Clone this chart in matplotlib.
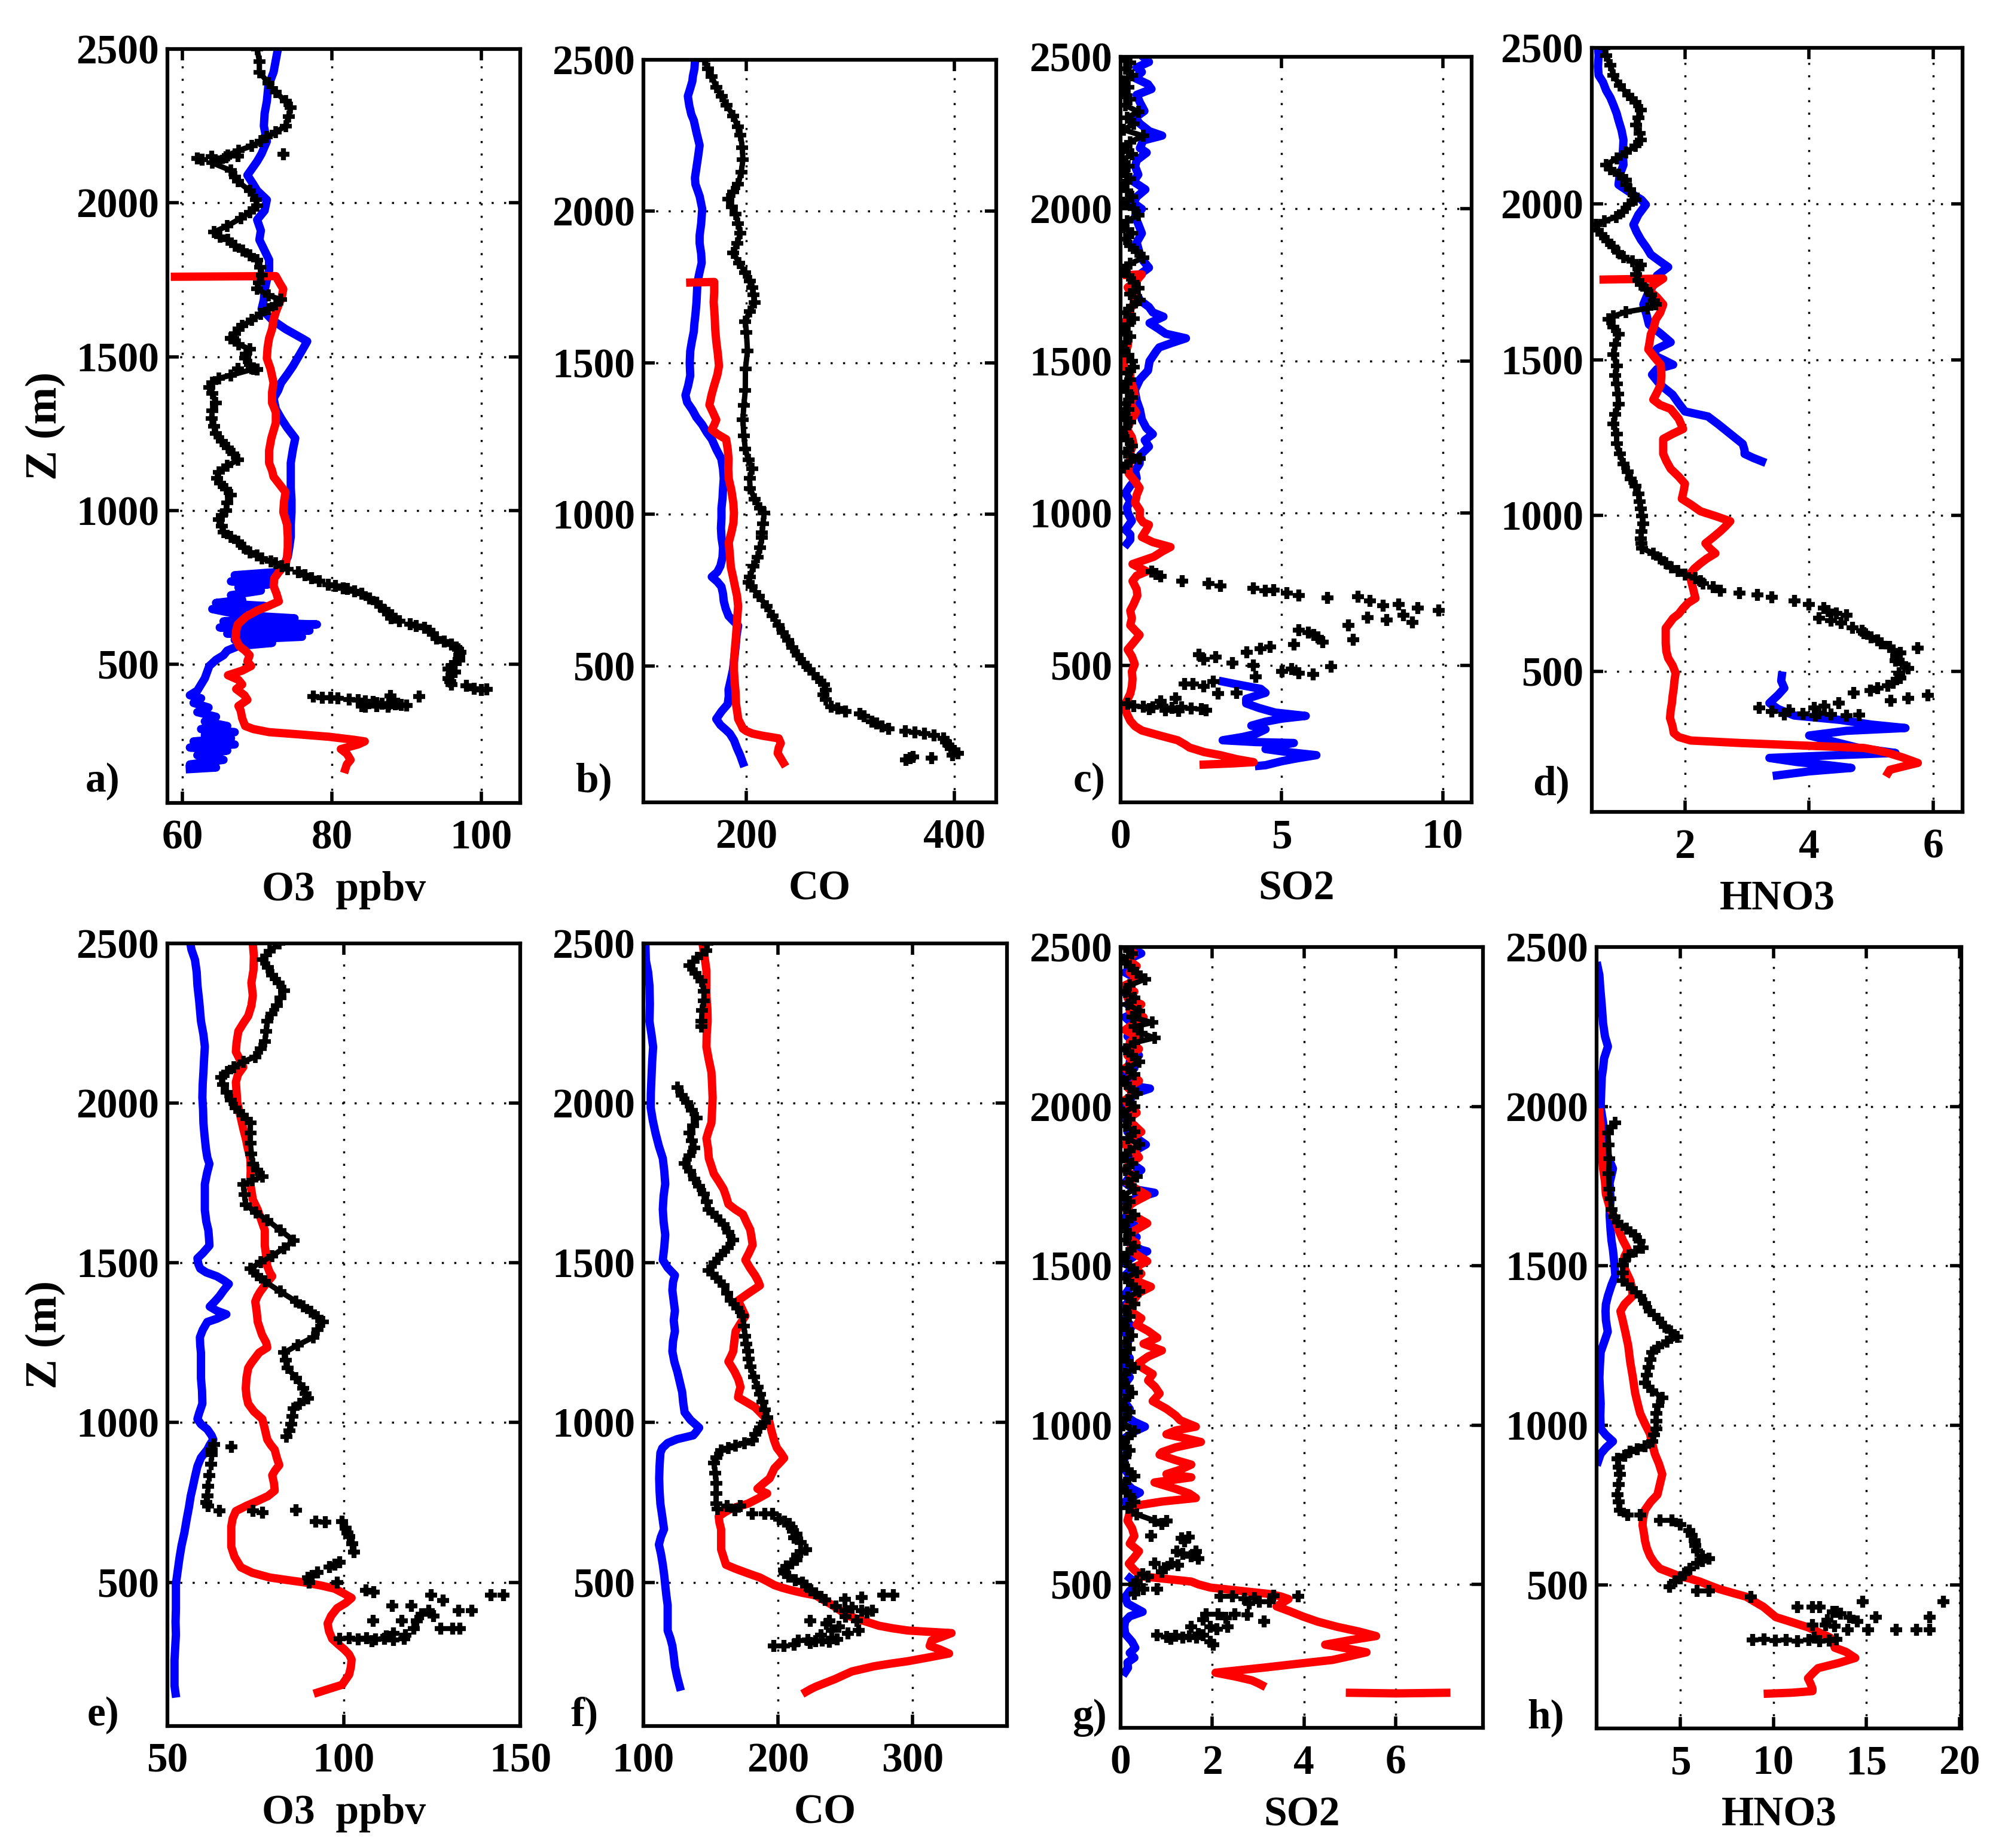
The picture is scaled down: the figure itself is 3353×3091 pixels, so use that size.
import numpy as np
import matplotlib
matplotlib.use("Agg")
import matplotlib.pyplot as plt

nan = np.nan

# ---------------- data: (height Z in m, value) ----------------
# panel a) O3
a_blue = [(2490,72.7),(2425,72.2),(2380,71.5),(2330,71.3),(2290,71.0),(2250,70.9),(2200,71.3),(2160,70.6),
          (2135,70.0),(2090,68.7),(2060,69.5),(2040,70.0),(2010,71.3),(1975,71.0),(1945,70.0),(1910,70.5),
          (1880,70.3),(1845,71.0),(1815,71.6),(1780,71.6),(1750,71.3),(1715,71.0),(1685,70.9),(1655,70.6),
          (1620,72.0),(1590,73.8),(1560,76.0),(1550,76.7),(1520,76.0),(1495,75.4),(1470,74.8),(1445,74.1),
          (1415,73.2),(1390,72.8),(1365,72.2),(1330,72.5),(1300,73.2),(1270,74.0),(1235,75.1),(1200,74.8),
          (1155,74.5),(1115,74.5),(1075,74.5),(1035,74.6),(995,74.6),(955,74.5),(915,74.5),(880,74.3),
          (850,74.1),(820,73.5),(800,72.5),(790,67.0),(780,72.0),(770,66.5),(760,71.5),(750,67.5),
          (740,70.5),(725,66.5),(710,68.0),(700,64.5),(690,71.0),(680,64.0),(670,66.0),(660,68.0),
          (650,75.0),(640,65.5),(630,78.0),(620,65.0),(610,77.0),(600,66.0),(590,76.0),(580,67.0),
          (570,72.0),(560,67.5),(545,66.0),(530,65.5),(515,64.5),(495,63.6),(475,63.3),(455,63.0),
          (435,62.5),(415,62.0),(400,61.0),(390,62.5),(375,61.5),(360,63.5),(345,62.0),(330,64.5),
          (315,63.0),(300,66.0),(290,62.5),(280,67.0),(270,63.0),(260,66.5),(250,61.5),(240,67.0),
          (230,61.0),(220,66.0),(205,62.0),(190,65.5),(175,61.0),(165,64.5),(160,61.0)]
a_red = [(1760,59.0),(1762,72.5),(1740,73.0),(1720,73.5),(1695,73.3),(1670,72.9),(1645,72.5),(1620,72.2),
         (1590,72.0),(1560,71.6),(1530,71.4),(1495,71.3),(1460,71.8),(1415,72.2),(1385,72.0),(1350,72.0),
         (1320,72.5),(1285,72.5),(1260,72.2),(1235,71.9),(1195,71.6),(1155,71.6),(1130,72.0),(1110,72.2),
         (1085,73.0),(1060,73.8),(1030,73.6),(995,73.5),(955,74.0),(915,74.1),(880,74.1),(850,74.0),
         (825,73.8),(800,72.9),(780,72.3),(755,72.2),(730,72.6),(705,72.9),(690,71.5),(675,70.0),
         (655,68.5),(630,67.4),(610,67.2),(585,67.1),(560,67.6),(545,68.4),(530,69.0),(510,68.7),
         (495,69.2),(480,68.0),(465,66.1),(450,67.5),(435,68.0),(420,67.2),(400,68.3),(385,68.7),
         (365,67.5),(350,67.8),(325,68.0),(300,68.4),(290,69.5),(280,71.6),(272,76.0),(265,79.6),
         (255,83.0),(250,84.4),(240,83.5),(225,81.2),(210,82.0),(190,82.5),(175,82.0),(160,81.8)]
a_black = [(2500,70.0),(2460,70.3),(2425,70.3),(2390,71.5),(2360,72.5),(2330,73.8),(2310,74.5),(2280,74.2),
           (2250,73.8),(2230,72.5),(2215,71.3),(2200,70.5),(2185,69.3),(2170,67.5),(2155,66.1),(2130,64.0),
           (2105,66.5),(2085,67.0),(2070,67.4),(2040,69.0),(2010,69.8),(1990,70.0),(1970,69.0),(1950,67.8),
           (1925,66.0),(1905,64.2),(1890,65.0),(1880,66.1),(1860,67.0),(1845,68.1),(1830,69.0),(1815,70.0),
           (1790,70.4),(1765,70.6),(1740,70.2),(1720,70.0),(1700,71.5),(1685,73.2),(1670,72.5),(1655,71.5),
           (1640,70.5),(1620,69.3),(1600,68.0),(1590,67.5),(1575,67.0),(1560,66.8),(1540,67.5),(1525,69.0),
           (1510,68.5),(1495,68.4),(1475,69.0),(1460,69.5),(1440,66.5),(1430,64.9),(1415,64.0),(1400,63.6),
           (1380,64.0),(1350,64.5),(1325,64.0),(1300,63.9),(1275,64.2),(1250,64.5),(1225,65.3),(1205,66.1),
           (1185,66.8),(1165,67.4),(1145,66.0),(1125,64.9),(1105,64.6),(1090,65.0),(1070,65.8),(1050,66.5),
           (1025,66.0),(1000,65.8),(985,65.3),(970,64.9),(950,65.3),(930,65.5),(915,66.5),(900,67.4),
           (880,68.2),(865,69.0),(855,70.0),(845,70.6),(835,71.8),(830,72.5),(820,73.3),(810,74.1)]
a_dots = [(2145,62.0),(2140,62.6),(2150,63.9),(2135,64.9),(2148,65.8),(2152,67.4),(2158,73.5),(1560,66.5),
          (1460,67.4),(1462,69.3),(1458,70.0),
          (800,75.5),(790,76.4),(780,77.3),(770,78.3),(760,79.5),(755,80.5),(748,81.5),(745,82.1),(738,83.0),
          (730,84.0),(715,85.0),(700,86.0),(690,86.5),(675,87.0),(668,87.5),(660,88.0),(650,87.9),(640,89.0),
          (630,90.5),(625,91.3),(620,92.4),(610,93.0),(600,93.5),(585,94.0),(575,95.0),(565,96.0),(555,96.6),
          (550,96.9),(540,97.2),(530,97.0),(515,97.0),(505,96.5),(495,96.0),(485,95.6),(475,96.5),(465,96.0),
          (455,95.6),(445,95.8),(435,96.0),(430,98.0),(422,99.0),(418,100.0),(420,100.7),
          (395,77.5),(392,78.7),(392,79.8),(390,80.8),(387,82.3),(385,83.5),(380,84.5),(378,85.5),(375,86.0),
          (372,86.7),(370,87.6),(370,88.5),(368,89.3),(366,90.0),(372,88.8),(395,91.7),(397,87.8),
          (362,84.5),(364,86.0),(362,87.5),(365,84.0)]

# panel b) CO
b_blue = [(2500,150.6),(2470,150.0),(2445,148.5),(2429,148.0),(2400,145.5),(2380,143.7),(2350,145.0),
          (2320,147.0),(2300,149.4),(2260,152.0),(2218,155.0),(2180,153.5),(2138,151.7),(2110,150.5),
          (2089,151.0),(2050,155.0),(2008,157.5),(1960,156.5),(1920,155.0),(1895,155.0),(1860,156.5),
          (1830,157.0),(1800,155.0),(1765,152.9),(1735,152.5),(1700,152.0),(1660,151.0),(1630,150.0),
          (1603,149.4),(1570,147.5),(1539,146.0),(1500,145.5),(1458,146.0),(1425,144.0),(1393,141.4),
          (1370,143.0),(1345,148.0),(1320,152.0),(1296,157.5),(1270,162.0),(1248,166.7),(1215,171.0),
          (1183,175.9),(1150,177.5),(1118,178.2),(1085,177.5),(1053,177.0),(1020,176.0),(989,176.0),
          (955,175.5),(924,176.0),(890,177.5),(859,177.0),(830,175.0),(810,172.0),(794,166.7),(778,172.0),
          (762,175.9),(738,177.5),(714,178.2),(690,180.0),(665,182.8),(650,187.0),(633,192.0),(600,190.5),
          (568,189.7),(530,188.5),(487,187.0),(455,185.0),(422,182.8),(400,183.0),(374,182.0),(350,176.0),
          (325,171.0),(305,175.0),(290,180.0),(277,184.0),(255,188.0),(228,191.0),(205,194.0),(180,196.6)]
b_red = [(1765,146.0),(1767,169.0),(1733,169.0),(1700,168.5),(1652,169.5),(1610,170.0),(1571,171.0),
         (1530,172.5),(1490,173.6),(1460,172.0),(1426,169.0),(1395,166.5),(1361,164.4),(1335,168.0),
         (1312,171.0),(1295,169.0),(1280,166.7),(1265,172.0),(1248,180.5),(1215,182.0),(1183,182.8),
         (1150,182.5),(1118,183.0),(1080,185.5),(1037,187.4),(1005,188.0),(972,187.5),(940,185.5),
         (907,183.0),(870,184.0),(826,185.0),(795,187.0),(762,189.0),(730,191.0),(697,192.0),(650,191.0),
         (600,190.0),(560,189.0),(519,188.0),(485,188.0),(455,188.5),(415,189.5),(374,190.0),(340,191.5),
         (325,192.0),(305,195.0),(293,196.6),(285,200.0),(277,205.7),(270,215.0),(261,231.0),(245,233.0),
         (230,231.0),(212,230.0),(195,233.0),(180,235.6)]
b_black = [(2500,159.8),(2470,163.0),(2445,166.7),(2410,171.0),(2380,176.0),(2350,181.0),(2315,187.4),
           (2280,191.5),(2251,194.3),(2210,196.0),(2170,196.6),(2130,195.0),(2089,192.0),(2065,187.0),
           (2040,182.8),(2015,186.0),(1992,189.7),(1960,192.0),(1927,194.3),(1895,191.0),(1862,187.4),
           (1830,193.0),(1798,198.9),(1770,203.0),(1749,205.7),(1725,207.0),(1700,208.0),(1670,203.0),
           (1636,198.9),(1600,200.0),(1539,201.0),(1480,199.0),(1409,198.9),(1360,197.5),(1312,196.6),
           (1260,197.5),(1215,198.9),(1180,202.0),(1150,205.7),(1120,203.0),(1086,203.5),(1050,208.0),
           (1020,213.0),(1005,217.0),(970,216.0),(940,215.0),(924,215.0),(890,213.0),(859,211.0),(830,207.0),
           (794,203.4),(775,202.0),(762,205.0),(730,212.0),(697,219.5),(665,225.0),(633,231.0),(610,235.0),
           (584,240.0),(560,244.0),(535,249.4),(510,255.0),(487,261.0),(460,268.0),(438,274.7),(420,276.0),
           (406,274.0),(390,276.0)]
b_dots = [(366,281.6),(360,288.0),(350,295.0),(342,309.0),(335,313.0),(317,320.7),(310,325.0),(300,330.0),
          (293,336.8),(285,352.9),(280,362.0),(277,371.0),(270,380.0),(261,389.7),(250,392.0),(240,394.0),
          (228,396.6),(220,400.0),(212,403.0),(205,398.0),(196,378.0),(196,357.5),(190,353.0),(200,360.0)]

# panel c) SO2
c_blue = [(2500,0.7),(2483,0.88),(2465,0.5),(2450,0.66),(2430,0.45),(2410,0.85),(2394,0.96),(2375,0.5),
          (2350,0.6),(2322,0.74),(2300,0.45),(2280,0.6),(2255,0.9),(2241,1.29),(2225,0.7),(2200,0.6),
          (2185,0.81),(2160,0.5),(2140,0.45),(2113,0.55),(2090,0.4),(2064,0.77),(2040,0.5),(2020,0.4),
          (2000,0.66),(1975,0.45),(1950,0.55),(1920,0.66),(1890,0.5),(1855,0.59),(1830,0.7),(1807,0.88),
          (1785,0.6),(1760,0.4),(1742,0.37),(1720,0.5),(1700,0.6),(1678,0.88),(1660,1.0),(1646,1.33),
          (1625,0.9),(1606,1.18),(1590,1.4),(1575,2.03),(1560,1.6),(1545,1.2),(1533,1.11),(1500,0.9),
          (1469,0.85),(1440,0.6),(1404,0.44),(1370,0.5),(1340,0.6),(1308,0.66),(1280,0.8),(1260,1.0),
          (1240,0.75),(1219,0.88),(1190,0.6),(1163,0.59),(1140,0.45),(1115,0.5),(1090,0.3),(1066,0.15),
          (1040,0.3),(1020,0.2),(1002,0.22),(975,0.35),(946,0.15),(930,0.3),(913,0.3),(900,0.2),(nan,nan),
          (447,3.17),(440,3.5),(430,4.0),(423,4.35),(410,4.5),(400,4.2),(390,3.9),(375,3.9),(360,4.3),
          (345,4.8),(334,5.75),(325,5.0),(315,4.5),(302,4.06),(290,4.5),(275,4.2),(265,3.8),(254,3.17),
          (248,4.2),(245,5.38),(235,4.8),(225,4.5),(215,5.2),(205,6.08),(195,5.5),(185,5.0),(172,4.5),
          (170,4.3)]
c_red = [(1783,0.2),(1785,0.66),(1765,0.5),(1742,0.22),(1720,0.35),(1694,0.52),(1675,0.3),(1654,0.3),
         (1630,0.15),(1606,0.1),(1580,0.25),(1549,0.22),(1520,0.12),(1485,0.1),(1460,0.3),(1437,0.3),
         (1410,0.4),(1388,0.44),(1360,0.3),(1332,0.48),(1300,0.3),(1276,0.2),(1250,0.35),(1227,0.4),
         (1200,0.3),(1179,0.3),(1150,0.25),(1131,0.25),(1105,0.45),(1083,0.59),(1060,0.5),(1034,0.45),
         (1010,0.6),(986,0.59),(970,0.7),(962,0.88),(945,0.8),(922,0.66),(905,1.0),(889,1.55),(875,1.3),
         (857,1.03),(845,0.7),(833,0.37),(820,0.6),(809,0.81),(795,0.5),(777,0.37),(750,0.5),(729,0.52),
         (700,0.4),(680,0.3),(655,0.35),(632,0.3),(615,0.45),(600,0.59),(575,0.4),(552,0.22),(530,0.35),
         (504,0.44),(480,0.35),(455,0.37),(430,0.35),(407,0.3),(385,0.2),(367,0.12),(340,0.2),(318,0.3),
         (300,0.45),(286,0.66),(270,1.2),(254,1.77),(240,2.0),(230,2.14),(215,2.6),(205,3.1),(192,3.6),
         (182,4.13),(178,3.5),(174,2.58)]
c_black = [(2500,0.1),(2480,0.3),(2460,0.15),(2440,0.35),(2420,0.1),(2400,0.25),(2380,0.05),(2360,0.3),
           (2340,0.15),(2320,0.55),(2300,0.2),(2280,0.4),(2260,0.1),(2240,0.7),(2220,0.3),(2200,0.1),
           (2180,0.35),(2160,0.05),(2140,0.25),(2120,0.1),(2100,0.3),(2080,0.05),(2060,0.2),(2040,0.35),
           (2020,0.1),(2000,0.4),(1980,0.55),(1960,0.2),(1940,0.1),(1920,0.35),(1900,0.15),(1880,0.3),
           (1860,0.5),(1840,0.7),(1820,0.3),(1800,0.1),(1780,0.25),(1760,0.4),(1740,0.55),(1720,0.3),
           (1700,0.6),(1680,0.35),(1660,0.15),(1640,0.4),(1620,0.25),(1600,0.1),(1580,0.3),(1560,0.15),
           (1540,0.1),(1520,0.25),(1500,0.35),(1480,0.4),(1460,0.2),(1440,0.3),(1420,0.1),(1400,0.2),
           (1380,0.35),(1360,0.15),(1340,0.25),(1320,0.1),(1300,0.3),(1280,0.15),(1260,0.05),(1240,0.2),
           (1220,0.35),(1200,0.15),(1180,0.59),(1170,0.3),(1150,0.1)]
c_dots = [(809,0.96),(800,1.1),(793,1.25),(777,1.92),(769,2.73),(761,3.1),(753,4.13),(745,4.5),(748,4.76),
          (737,5.16),(729,5.53),(721,6.42),(725,7.37),(713,7.74),(697,8.15),(700,8.63),(689,9.22),(681,9.88),
          (665,8.78),(657,7.67),(649,8.26),(641,9.07),(632,7.08),(616,5.53),(608,5.83),(600,6.0),(592,6.12),
          (584,7.23),(576,6.27),(568,5.38),(560,4.65),(555,4.35),(544,3.91),(536,2.43),(528,2.95),(520,2.58),
          (507,3.47),(500,4.13),(496,6.53),(488,5.31),(480,5.01),(475,5.53),(471,5.97),(463,4.2),(447,2.88),
          (439,1.99),(439,2.25),(431,2.58),(407,3.02),(410,3.61),(391,1.7),(383,1.25),(375,0.22),
          (366,0.4),(364,0.7),(362,1.0),(366,1.3),(360,1.6),(362,1.9),(358,2.2),(356,2.5),(352,2.65),
          (356,0.9),(352,1.4),(350,1.8)]

# panel d) HNO3
d_blue = [(2500,0.6),(2476,0.61),(2440,0.6),(2412,0.61),(2390,0.68),(2364,0.73),(2340,0.8),(2316,0.85),
          (2290,0.9),(2268,0.93),(2235,0.98),(2204,1.01),(2165,1.0),(2125,1.01),(2093,0.95),(2061,0.93),
          (2045,1.05),(2029,1.17),(2013,1.3),(1997,1.37),(1965,1.25),(1933,1.17),(1910,1.22),(1885,1.29),
          (1860,1.38),(1837,1.45),(1815,1.6),(1797,1.73),(1770,1.55),(1741,1.5),(1710,1.4),(1677,1.33),
          (1645,1.38),(1613,1.42),(1585,1.6),(1556,1.77),(1535,1.55),(1516,1.48),(1500,1.65),(1484,1.81),
          (1470,1.55),(1452,1.47),(1420,1.6),(1388,1.8),(1360,1.9),(1334,2.0),(1318,2.37),(1294,2.53),
          (1262,2.73),(1230,2.93),(1210,2.96),(1198,2.96),(1185,3.1),(1174,3.24),(nan,nan),
          (487,3.56),(470,3.55),(447,3.6),(425,3.5),(399,3.36),(380,3.5),(359,3.76),(345,4.5),(330,5.0),
          (319,5.55),(310,4.6),(295,4.0),(285,4.2),(271,4.48),(255,4.8),(239,5.39),(230,4.2),(223,3.36),
          (210,3.8),(200,4.3),(191,4.68),(180,4.0),(167,3.48)]
d_red = [(1757,0.69),(1760,1.65),(1740,1.5),(1725,1.41),(1700,1.55),(1677,1.65),(1650,1.6),(1629,1.53),
         (1605,1.5),(1581,1.45),(1555,1.43),(1533,1.41),(1510,1.5),(1484,1.61),(1450,1.62),(1420,1.61),
         (1395,1.55),(1372,1.49),(1355,1.6),(1342,1.77),(1310,1.9),(1278,1.97),(1262,1.8),(1246,1.65),
         (1220,1.65),(1198,1.65),(1175,1.7),(1150,1.77),(1125,1.9),(1102,2.0),(1080,1.98),(1054,1.95),
         (1035,2.1),(1014,2.25),(998,2.5),(982,2.73),(965,2.65),(950,2.57),(930,2.45),(911,2.33),(895,2.4),
         (879,2.49),(862,2.35),(847,2.25),(830,2.15),(815,2.09),(790,2.1),(767,2.13),(750,2.15),(735,2.17),
         (720,2.05),(703,1.97),(685,1.9),(671,1.81),(655,1.75),(639,1.69),(615,1.69),(591,1.69),(565,1.7),
         (543,1.73),(520,1.8),(495,1.85),(470,1.83),(447,1.82),(420,1.8),(399,1.79),(375,1.77),(351,1.76),
         (325,1.8),(303,1.82),(290,1.9),(279,2.09),(271,2.88),(263,3.88),(255,4.88),(247,5.1),(239,5.27),
         (225,5.5),(207,5.75),(195,5.5),(185,5.3),(175,5.27)]
d_black = [(2500,0.7),(2476,0.73),(2445,0.8),(2412,0.85),(2380,0.95),(2348,1.09),(2325,1.2),(2300,1.29),
           (2275,1.25),(2252,1.21),(2225,1.27),(2204,1.29),(2185,1.2),(2165,1.05),(2145,0.9),(2125,0.73),
           (2110,0.8),(2093,0.93),(2077,1.05),(2061,1.05),(2045,1.12),(2029,1.17),(2013,1.2),(1997,1.1),
           (1975,1.0),(1957,0.89),(1945,0.7),(1933,0.57),(1915,0.6),(1901,0.65),(1880,0.75),(1861,0.85),
           (1845,0.92),(1829,1.01),(1815,1.15),(1805,1.29),(1790,1.25),(1773,1.21),(1755,1.25),(1741,1.29),
           (1725,1.38),(1709,1.45),(1690,1.5),(1677,1.53),(1665,1.4),(1653,1.05),(1640,0.85),(1629,0.77),
           (1605,0.85),(1581,0.93),(1550,0.88),(1517,0.85),(1480,0.9),(1450,0.88),(1422,0.9),(1390,0.92),
           (1358,0.93),(1325,0.88),(1294,0.85),(1262,0.9),(1230,0.9),(1198,0.95),(1166,1.01),(1140,1.08),
           (1118,1.13),(1095,1.2),(1070,1.25),(1045,1.27),(1022,1.29),(998,1.31),(974,1.33),(950,1.3),
           (927,1.29),(911,1.3),(895,1.31),(879,1.49),(863,1.6),(847,1.69),(835,1.78),(823,1.89),(811,2.0),
           (799,2.17),(790,2.25),(783,2.29)]
d_dots = [(770,2.45),(759,2.57),(751,2.88),(746,3.17),(738,3.4),(727,3.76),(715,4.0),(703,4.24),(695,4.3),
          (687,4.44),(680,4.6),(671,4.16),(663,4.35),(655,4.52),(640,4.7),(630,4.85),(623,4.88),(610,5.0),
          (600,5.1),(591,5.16),(580,5.3),(575,5.75),(567,5.35),(559,5.47),(550,5.4),(535,5.39),(525,5.5),
          (511,5.59),(495,5.45),(479,5.47),(465,5.35),(455,5.27),(447,5.1),(439,4.99),(431,4.72),(423,5.91),
          (415,5.59),(407,5.31),(399,4.48),(390,4.25),(383,4.08),(375,3.68),(383,3.2),(372,3.4),(367,4.16),
          (359,4.6),(365,3.9),(362,4.35),(358,4.1),(360,4.8),(363,3.6)]

# panel e) O3
e_blue = [(2500,56.5),(2481,56.8),(2449,57.8),(2410,58.3),(2369,58.5),(2320,59.0),(2257,59.5),(2215,60.2),
          (2177,60.6),(2140,60.4),(2097,60.2),(2060,60.0),(2018,59.9),(1980,60.1),(1938,60.2),(1900,60.5),
          (1858,60.9),(1830,61.3),(1810,61.9),(1780,61.2),(1746,60.6),(1710,60.6),(1666,60.6),(1630,61.0),
          (1602,61.6),(1575,61.8),(1554,61.9),(1530,60.0),(1514,58.5),(1495,58.8),(1482,59.3),(1470,61.0),
          (1458,64.0),(1445,66.0),(1434,67.4),(1415,66.0),(1395,64.7),(1380,63.5),(1363,62.0),(1350,64.0),
          (1339,66.7),(1325,64.0),(1315,61.3),(1290,60.0),(1267,59.2),(1240,59.3),(1219,59.5),(1180,59.5),
          (1139,59.5),(1100,59.8),(1059,59.9),(1030,59.0),(1011,58.5),(995,59.5),(979,61.3),(960,62.5),
          (947,63.0),(930,62.0),(915,61.3),(890,59.5),(863,58.5),(830,57.8),(799,57.2),(770,56.6),(735,56.1),
          (700,55.5),(655,54.8),(615,54.0),(575,53.4),(535,52.9),(495,52.4),(455,52.4),(416,52.4),(376,52.3),
          (336,52.4),(296,52.2),(256,52.0),(216,52.0),(176,52.0),(152,52.3)]
e_red = [(2500,74.2),(2460,74.5),(2417,74.4),(2377,73.8),(2337,74.2),(2305,73.8),(2273,72.9),(2250,71.5),
         (2225,70.1),(2190,69.6),(2161,69.4),(2137,70.5),(2113,71.5),(2090,70.0),(2066,69.4),(2034,69.6),
         (2002,69.8),(1978,70.3),(1954,70.8),(1920,71.5),(1890,72.2),(1858,72.8),(1826,73.5),(1790,73.6),
         (1746,73.5),(1720,73.9),(1698,74.2),(1682,74.9),(1666,75.6),(1634,76.6),(1602,77.6),(1578,77.6),
         (1554,77.6),(1520,78.0),(1490,78.3),(1470,79.0),(1458,79.7),(1435,78.0),(1410,76.3),(1395,75.5),
         (1379,74.9),(1347,75.3),(1315,75.6),(1275,76.8),(1250,78.0),(1235,78.3),(1219,76.0),(1203,74.9),
         (1187,73.8),(1171,72.9),(1140,72.4),(1107,72.2),(1083,72.4),(1059,72.9),(1035,74.5),(1011,76.9),
         (980,77.6),(947,78.3),(930,79.3),(915,80.4),(890,81.0),(867,81.7),(850,80.5),(835,79.7),(810,80.2),
         (787,80.4),(770,78.5),(755,75.6),(740,72.5),(723,69.4),(700,68.5),(675,68.1),(640,68.1),(611,68.1),
         (580,69.0),(547,70.8),(530,74.0),(515,79.0),(507,84.0),(499,89.2),(490,93.5),(480,97.4),(465,100.0),
         (451,102.2),(435,100.5),(419,98.1),(395,96.4),(371,95.4),(347,95.8),(323,96.7),(305,98.5),(290,100.1),
         (274,101.5),(258,102.2),(235,102.0),(211,101.5),(195,100.5),(179,99.5),(167,96.0),(155,92.6)]
e_black = [(2500,81.7),(2475,79.0),(2449,76.9),(2425,78.5),(2401,79.7),(2377,81.5),(2353,83.1),(2330,82.0),
           (2305,81.0),(2280,79.5),(2257,78.3),(2225,78.0),(2193,77.6),(2170,76.5),(2145,74.9),(2130,71.5),
           (2113,68.8),(2097,67.0),(2081,65.3),(2058,65.8),(2034,66.7),(2010,68.0),(1986,69.4),(1962,71.3),
           (1938,73.5),(1906,73.5),(1874,73.5),(1842,73.8),(1810,74.2),(1790,75.5),(1770,76.9),(1758,74.0),
           (1746,71.5),(1714,71.8),(1682,72.2),(1658,75.0),(1634,78.3),(1602,82.0),(1570,85.8),(1546,83.0),
           (1522,79.7),(1502,76.5),(1482,73.5),(1462,75.5),(1442,77.6),(1410,82.0),(1379,86.5),(1363,88.5),
           (1347,90.6),(1331,92.5),(1315,94.0),(1291,92.5),(1267,91.3),(1243,87.0),(1219,83.1),(1195,83.5),
           (1171,84.0),(1139,86.5),(1107,88.5),(1091,89.2),(1075,89.9),(1059,87.5),(1043,85.8),(1019,85.5),
           (995,85.0),(975,84.5),(955,83.8)]
e_dots = [(931,63.3),(925,68.1),(915,62.5),(899,62.6),(870,62.3),(835,61.9),(800,61.6),(771,61.3),(750,61.0),
          (739,61.5),(723,64.7),(723,74.2),(718,76.9),(725,86.5),(691,92.0),(688,94.7),(691,99.5),(670,100.5),
          (655,101.0),(643,101.5),(620,102.3),(595,102.9),(563,98.8),(555,97.5),(547,96.0),(531,92.6),
          (520,91.0),(515,89.9),(499,90.2),(499,98.1),(475,106.3),(470,108.5),(459,124.7),(459,141.7),
          (459,145.2),(443,128.1),(427,113.8),(427,119.2),(411,124.0),(411,132.5),(411,136.3),(400,122.0),
          (395,125.5),(379,108.3),(379,116.5),(379,120.6),(355,119.9),(355,127.4),(355,130.8),(355,132.9),
          (340,114.0),(335,117.5),(323,98.8),(325,101.5),(322,104.0),(326,106.5),(321,109.0),(324,111.5),
          (320,114.0),(323,117.2),(330,112.0),(315,108.0)]

# panel f) CO
f_blue = [(2495,101.5),(2447,101.8),(2410,103.5),(2367,104.5),(2310,104.8),(2256,104.5),(2215,106.0),
          (2176,107.2),(2130,106.5),(2081,106.0),(2030,105.5),(1986,105.4),(1945,107.0),(1906,109.0),
          (1865,111.5),(1827,114.4),(1787,115.5),(1747,116.2),(1710,115.0),(1668,114.4),(1628,115.0),
          (1588,116.2),(1550,115.5),(1509,114.4),(1485,118.0),(1461,123.4),(1440,122.0),(1414,121.5),
          (1380,122.5),(1350,123.4),(1320,122.5),(1286,123.4),(1255,122.0),(1223,121.5),(1190,123.0),
          (1159,125.2),(1127,127.0),(1095,128.8),(1064,129.5),(1032,130.6),(1008,135.0),(984,141.4),
          (970,139.0),(960,137.0),(948,125.0),(936,118.0),(920,114.0),(905,112.6),(865,112.0),(825,111.7),
          (785,112.0),(746,112.6),(706,114.0),(666,115.3),(642,113.0),(618,111.5),(590,113.0),(555,114.4),
          (520,115.5),(491,116.2),(460,117.0),(428,118.0),(390,118.0),(349,118.0),(325,120.0),(301,121.5),
          (270,122.5),(237,123.4),(205,125.0),(173,127.0)]
f_red = [(2494,144.1),(2455,145.5),(2415,146.8),(2375,146.8),(2335,146.8),(2295,147.5),(2256,147.7),
         (2216,147.0),(2176,146.8),(2137,148.5),(2097,150.5),(2057,151.0),(2017,151.4),(1978,151.0),
         (1938,150.5),(1914,148.5),(1890,146.8),(1858,148.0),(1827,148.6),(1803,150.5),(1779,152.3),
         (1755,156.0),(1731,159.5),(1707,161.5),(1684,163.1),(1668,168.0),(1652,173.9),(1628,176.5),
         (1604,179.3),(1580,180.3),(1556,181.1),(1532,178.5),(1509,175.7),(1485,179.0),(1461,182.9),
         (1445,185.0),(1429,186.5),(1405,178.0),(1382,170.3),(1358,173.0),(1334,175.7),(1310,172.0),
         (1286,168.5),(1254,167.5),(1223,166.7),(1207,165.0),(1191,163.1),(1175,165.5),(1159,167.8),
         (1135,170.5),(1111,172.1),(1095,171.0),(1079,170.3),(1064,176.5),(1048,182.9),(1024,188.5),
         (1000,193.7),(984,194.5),(968,195.5),(945,197.0),(921,199.1),(905,202.0),(889,204.5),(873,201.0),
         (857,197.3),(841,195.5),(825,193.7),(809,189.0),(793,184.7),(785,188.0),(778,191.9),(762,185.0),
         (746,177.5),(738,171.0),(730,164.9),(718,160.0),(706,155.9),(686,156.5),(666,157.7),(634,157.7),
         (603,157.7),(579,159.5),(555,161.3),(543,168.0),(531,175.7),(523,181.0),(515,186.5),(503,192.0),
         (491,197.3),(483,203.0),(475,209.9),(467,218.0),(459,227.9),(444,234.0),(428,240.5),(412,246.0),
         (396,251.4),(380,263.0),(364,274.8),(356,285.0),(349,296.4),(345,312.0),(341,328.8),(330,322.0),
         (318,314.0),(301,312.6),(290,320.0),(277,327.0),(265,312.0),(253,296.4),(245,283.0),(237,271.2),
         (229,263.0),(221,254.9),(209,248.5),(197,242.3),(185,235.0),(173,227.9),(165,224.0),(157,220.7)]
f_black = [(2500,147.5),(2478,146.8),(2455,140.0),(2431,134.2),(2407,138.5),(2383,143.2),(2350,145.0),
           (2320,144.9),(2290,143.5),(2256,143.2),(2240,143.0),(nan,nan),(2049,125.2),(2025,128.5),
           (2002,132.4),(1978,136.0),(1954,139.6),(1930,137.0),(1906,134.2),(1882,136.0),(1859,137.8),
           (1835,134.0),(1811,130.6),(1787,134.5),(1763,137.8),(1740,141.5),(1716,145.0),(1692,147.0),
           (1668,148.6),(1644,154.0),(1620,159.5),(1596,163.0),(1572,166.7),(1548,162.5),(1525,157.7),
           (1500,153.0),(1477,148.6),(1453,154.0),(1429,159.5),(1405,162.0),(1382,164.9),(1358,169.5),
           (1334,173.9),(1302,174.5),(1270,175.7),(1246,176.5),(1223,177.5),(1199,178.0),(1175,179.3),
           (1143,182.0),(1111,184.7),(1088,186.5),(1064,188.3),(1040,190.0),(1016,191.9),(1000,190.0),
           (984,186.5),(964,183.0),(944,181.1),(936,175.0),(928,168.5),(920,163.0),(912,157.7),(890,154.0),
           (873,152.3),(841,153.5),(809,154.0),(778,154.0),(746,154.0),(730,155.0)]
f_dots = [(738,162.2),(738,172.1),(725,168.0),(714,181.0),(714,190.0),(714,196.0),(698,201.0),(690,205.0),
          (682,208.3),(672,210.0),(660,211.0),(651,213.5),(640,212.0),(625,217.0),(603,220.7),(595,217.0),
          (585,214.0),(571,213.5),(560,210.0),(550,206.0),(539,204.5),(530,205.0),(518,208.0),(507,213.0),
          (500,218.0),(490,221.0),(475,224.3),(465,228.0),(455,232.0),(444,235.0),(447,249.5),(452,262.0),
          (460,278.0),(460,285.6),(425,243.0),(412,249.5),(420,255.0),(412,262.0),(405,266.0),(412,270.0),
          (380,224.0),(380,238.0),(392,250.0),(380,258.6),(370,236.0),(349,240.0),(349,260.0),(360,245.0),
          (340,252.0),(335,232.0),(317,215.0),(320,222.0),(315,228.0),(318,233.0),(313,238.0),(322,244.0),
          (301,197.0),(301,204.5),(305,212.0),(310,224.0),(325,240.0)]

# panel g) SO2
g_blue = [(2500,0.2),(2480,0.45),(2460,0.15),(2440,0.3),(2420,0.1),(2400,0.35),(2380,0.2),(2360,0.05),
          (2340,0.3),(2320,0.15),(2300,0.4),(2280,0.1),(2260,0.25),(2240,0.35),(2220,0.15),(2200,0.3),
          (2180,0.1),(2160,0.4),(2140,0.2),(2120,0.3),(2100,0.1),(2080,0.25),(2060,0.45),(2056,0.64),
          (2040,0.3),(2020,0.2),(2000,0.1),(1980,0.25),(1960,0.1),(1940,0.3),(1920,0.15),(1900,0.35),
          (1880,0.55),(1860,0.3),(1840,0.1),(1820,0.25),(1800,0.45),(1780,0.2),(1760,0.1),(1740,0.3),
          (1729,0.74),(1710,0.3),(1690,0.1),(1670,0.2),(1650,0.1),(1630,0.3),(1610,0.15),(1590,0.35),
          (1570,0.2),(1550,0.45),(1545,0.58),(1530,0.3),(1510,0.1),(1490,0.25),(1470,0.1),(1450,0.3),
          (1430,0.2),(1410,0.1),(1390,0.2),(1370,0.05),(1350,0.15),(1330,0.1),(1310,0.25),(1290,0.1),
          (1270,0.2),(1250,0.05),(1230,0.1),(1210,0.2),(1190,0.05),(1170,0.1),(1150,0.2),(1130,0.1),
          (1110,0.05),(1090,0.15),(1070,0.1),(1050,0.2),(1030,0.1),(1010,0.3),(995,0.53),(980,0.3),
          (960,0.1),(940,0.05),(920,0.15),(900,0.1),(880,0.05),(860,0.1),(840,0.2),(820,0.1),(800,0.25),
          (788,0.42),(770,0.2),(760,0.1),(nan,nan),(520,0.2),(495,0.42),(480,0.2),(460,0.1),(440,0.15),
          (414,0.48),(400,0.2),(385,0.1),(367,0.08),(345,0.1),(320,0.25),(301,0.32),(285,0.2),(270,0.3),
          (255,0.15),(238,0.16),(225,0.1)]
g_red = [(2500,0.1),(2480,0.3),(2460,0.15),(2440,0.35),(2420,0.2),(2400,0.4),(2380,0.1),(2360,0.3),
         (2340,0.15),(2320,0.45),(2300,0.2),(2280,0.5),(2260,0.3),(2240,0.1),(2220,0.35),(2200,0.2),
         (2180,0.4),(2160,0.15),(2140,0.3),(2120,0.1),(2100,0.25),(2080,0.4),(2060,0.15),(2040,0.3),
         (2020,0.1),(2000,0.2),(1980,0.35),(1960,0.15),(1940,0.3),(1920,0.45),(1900,0.2),(1880,0.1),
         (1860,0.3),(1840,0.4),(1820,0.2),(1800,0.1),(1780,0.3),(1760,0.15),(1740,0.35),(1721,0.58),
         (1700,0.3),(1680,0.1),(1660,0.25),(1633,0.58),(1610,0.3),(1590,0.15),(1570,0.35),(1550,0.2),
         (1530,0.4),(1514,0.58),(1495,0.3),(1475,0.45),(1455,0.3),(1434,0.66),(1415,0.4),(1395,0.3),
         (1375,0.15),(1354,0.25),(1335,0.45),(1315,0.35),(1295,0.6),(1274,0.8),(1255,0.5),(1234,0.9),
         (1215,0.6),(1195,0.4),(1179,0.48),(1160,0.7),(1140,0.6),(1120,0.75),(1099,0.85),(1075,0.7),
         (1051,1.0),(1030,1.2),(1015,1.3),(995,1.64),(983,1.2),(971,1.0),(959,1.4),(947,1.75),(930,1.2),
         (915,0.9),(907,0.85),(890,1.2),(876,1.54),(860,1.3),(846,1.0),(836,1.54),(820,0.74),(800,1.2),
         (785,1.5),(771,1.64),(760,0.9),(748,0.37),(725,0.2),(700,0.15),(676,0.25),(652,0.3),(628,0.2),
         (604,0.4),(585,0.3),(565,0.18),(545,0.3),(525,0.48),(509,1.54),(500,1.7),(490,1.96),(480,2.6),
         (470,3.24),(462,3.5),(454,3.66),(440,3.5),(431,3.4),(415,3.7),(399,3.98),(383,4.3),(367,4.72),
         (352,5.2),(338,5.57),(325,5.0),(311,4.46),(300,4.9),(287,5.36),(275,5.0),(263,4.62),(250,3.8),
         (239,3.13),(231,2.6),(223,2.07),(211,2.5),(199,2.86),(190,3.0),(184,3.08),(nan,nan),
         (160,5.0),(158,6.0),(160,7.1)]
g_black = [(2500,0.1),(2480,0.25),(2460,0.05),(2440,0.2),(2420,0.35),(2399,0.53),(2380,0.2),(2360,0.1),
           (2340,0.3),(2320,0.15),(2300,0.4),(2280,0.25),(2263,0.69),(2250,0.3),(2230,0.45),(2215,0.74),
           (2200,0.3),(2180,0.1),(2160,0.25),(2140,0.4),(2120,0.15),(2100,0.3),(2080,0.05),(2060,0.2),
           (2040,0.35),(2020,0.15),(2000,0.3),(1980,0.05),(1960,0.2),(1940,0.1),(1920,0.3),(1900,0.15),
           (1880,0.4),(1860,0.2),(1840,0.05),(1820,0.25),(1800,0.1),(1780,0.35),(1760,0.15),(1740,0.3),
           (1720,0.05),(1700,0.2),(1680,0.1),(1660,0.3),(1640,0.15),(1620,0.05),(1600,0.2),(1580,0.1),
           (1560,0.3),(1540,0.15),(1520,0.05),(1500,0.2),(1480,0.35),(1460,0.1),(1440,0.25),(1420,0.4),
           (1400,0.15),(1380,0.3),(1360,0.1),(1340,0.2),(1320,0.05),(1300,0.15),(1280,0.25),(1260,0.1),
           (1240,0.2),(1220,0.05),(1200,0.15),(1180,0.3),(1160,0.1),(1140,0.05),(1120,0.15),(1100,0.25),
           (1080,0.1),(1060,0.05),(1040,0.2),(1020,0.1),(1000,0.05),(980,0.3),(960,0.15),(940,0.05),
           (920,0.2),(900,0.1),(880,0.05),(860,0.15),(840,0.3),(820,0.1),(800,0.05),(780,0.2),(760,0.3),
           (740,0.15),(720,0.35),(700,0.74)]
g_dots = [(700,1.01),(690,0.9),(652,0.66),(644,1.33),(648,1.49),(635,1.4),(604,1.22),(604,1.64),(588,1.54),
          (596,1.35),(580,1.7),(565,0.74),(565,1.11),(560,1.25),(550,0.95),(533,0.48),(540,0.9),(525,0.6),
          (510,0.35),(501,0.3),(485,0.5),(485,0.8),(470,0.3),(462,2.18),(462,2.44),(455,2.7),(458,2.92),
          (465,3.34),(462,3.87),(446,3.02),(446,3.25),(440,2.8),(407,1.86),(407,2.12),(407,2.49),(405,2.76),
          (383,3.13),(395,2.3),(390,1.8),(367,1.54),(367,1.96),(367,2.33),(360,2.1),(340,0.8),(336,1.0),
          (338,1.2),(334,1.35),(337,1.5),(333,1.65),(340,1.8),(345,1.7),(330,1.1),(311,2.02),(320,1.95)]

# panel h) HNO3
h_blue = [(2440,0.55),(2412,0.65),(2370,0.7),(2316,0.78),(2260,0.85),(2220,0.95),(2188,1.11),(2150,0.9),
          (2120,0.85),(2093,0.78),(2050,0.75),(1997,0.72),(1950,0.85),(1901,0.9),(1860,1.0),(1830,1.2),
          (1805,1.38),(1760,1.2),(1709,1.25),(1660,1.2),(1613,1.25),(1580,1.3),(1550,1.38),(1510,1.45),
          (1470,1.51),(1440,1.3),(1406,1.11),(1380,1.0),(1358,0.98),(1330,1.0),(1294,1.1),(1260,0.9),
          (1230,0.72),(1190,0.68),(1150,0.65),(1110,0.68),(1070,0.72),(1030,0.7),(990,0.72),(970,1.0),
          (950,1.38),(930,1.0),(911,0.72),(887,0.58)]
h_red = [(1981,0.65),(1940,0.7),(1901,0.72),(1850,0.78),(1805,0.85),(1765,0.95),(1725,1.0),(1685,1.2),
         (1645,1.51),(1610,1.7),(1581,1.91),(1560,2.1),(1550,2.18),(1530,2.0),(1505,1.91),(1480,2.1),
         (1454,2.31),(1430,2.4),(1406,2.44),(1380,2.0),(1358,1.78),(1330,1.9),(1294,2.04),(1250,2.2),
         (1198,2.31),(1150,2.45),(1102,2.57),(1070,2.7),(1038,2.84),(1005,3.1),(974,3.37),(940,3.5),
         (911,3.63),(880,3.85),(847,4.03),(815,3.9),(783,3.77),(760,3.4),(735,3.1),(710,3.0),(687,2.97),
         (660,3.05),(639,3.1),(615,3.2),(591,3.37),(570,3.6),(551,3.9),(540,4.4),(527,4.96),(520,5.5),
         (511,6.02),(500,6.5),(487,7.08),(475,7.8),(463,8.54),(447,9.0),(431,9.47),(415,9.8),(399,10.13),
         (383,11.0),(367,11.86),(350,12.5),(335,13.05),(320,13.2),(303,13.3),(290,13.9),(271,14.4),
         (255,13.5),(239,12.4),(222,12.1),(207,11.86),(190,12.0),(175,12.1),(167,12.1),(162,11.0),(159,9.7)]
h_black = [(1949,1.51),(1935,1.3),(1917,1.11),(1880,1.15),(1837,1.18),(1790,1.15),(1741,1.18),(1710,1.25),
           (1677,1.3),(1655,1.45),(1637,1.64),(1617,2.1),(1597,2.57),(1577,2.8),(1557,2.97),(1545,2.6),
           (1533,2.25),(1518,2.0),(1502,1.91),(1478,1.9),(1454,1.91),(1430,2.4),(1406,2.84),(1382,3.1),
           (1358,3.37),(1334,3.8),(1310,4.16),(1294,4.5),(1278,4.83),(1262,4.3),(1246,3.8),(1230,3.5),
           (1206,3.4),(1182,3.3),(1158,3.2),(1134,3.1),(1110,3.5),(1086,4.03),(1062,3.8),(1038,3.7),
           (1014,3.7),(990,3.7),(970,3.6),(950,3.5)]
h_dots = [(934,3.1),(926,2.7),(918,2.31),(905,2.0),(895,1.64),(870,1.7),(847,1.75),(815,1.7),(783,1.64),
          (760,1.7),(735,1.75),(719,2.18),(719,2.84),(703,3.9),(703,4.56),(690,5.0),(671,5.49),(655,5.6),
          (639,5.76),(623,5.8),(607,5.89),(590,6.2),(583,6.55),(575,6.2),(567,5.89),(551,5.5),(535,5.23),
          (520,5.0),(511,4.7),(495,4.43),(482,5.89),(482,6.55),(463,8.8),(447,14.8),(447,19.15),(431,11.3),
          (431,12.1),(431,12.5),(415,13.2),(415,13.4),(399,14.1),(399,15.5),(399,18.4),(410,13.6),(390,12.9),
          (375,12.1),(375,12.8),(359,14.0),(359,15.1),(359,16.6),(359,17.7),(359,18.4),(385,14.5),(370,13.3),
          (327,8.9),(329,9.5),(325,10.1),(328,10.7),(324,11.3),(327,11.9),(323,12.5),(326,13.0),(330,13.4),
          (335,12.2)]

panel_names = ["a)", "b)", "c)", "d)", "e)", "f)", "g)", "h)"]
x_labels = ["O3  ppbv", "CO", "SO2", "HNO3", "O3  ppbv", "CO", "SO2", "HNO3"]
x_limits = [(58, 105.2), (101, 440), (0, 10.9), (0.5, 6.47),
            (50, 150), (100, 370), (0, 7.9), (0.5, 20.1)]
x_ticks = [[60, 80, 100], [200, 400], [0, 5, 10], [2, 4, 6],
           [50, 100, 150], [100, 200, 300], [0, 2, 4, 6], [5, 10, 15, 20]]
y_ticks = [500, 1000, 1500, 2000, 2500]
profiles = [(a_blue, a_red, a_black, a_dots), (b_blue, b_red, b_black, b_dots),
            (c_blue, c_red, c_black, c_dots), (d_blue, d_red, d_black, d_dots),
            (e_blue, e_red, e_black, e_dots), (f_blue, f_red, f_black, f_dots),
            (g_blue, g_red, g_black, g_dots), (h_blue, h_red, h_black, h_dots)]

# axes boxes in pixels (left, top, right, bottom) and panel-letter centres
W, H = 3353, 3091
boxes = [(280, 82, 870, 1343), (1076, 100, 1666, 1342), (1874, 95, 2461, 1342), (2662, 80, 3282, 1358),
         (280, 1578, 870, 2887), (1076, 1578, 1684, 2887), (1874, 1584, 2480, 2890), (2670, 1584, 3280, 2891)]
letter_pos = [(172, 1307), (993, 1307), (1822, 1307), (2594, 1312),
              (172, 2869), (978, 2869), (1822, 2873), (2585, 2873)]

plt.rcParams["font.family"] = ["Liberation Serif", "DejaVu Serif"]
plt.rcParams["font.weight"] = "bold"

fig = plt.figure(figsize=(W / 100, H / 100), dpi=100)


def unpack(pairs):
    arr = np.array(pairs, dtype=float)
    return arr[:, 1], arr[:, 0]


for i in range(8):
    l, t, r, b = boxes[i]
    ax = fig.add_axes([l / W, 1 - b / H, (r - l) / W, (b - t) / H])
    blue, red, black, dots = profiles[i]

    x, z = unpack(blue)
    ax.plot(x, z, color="#0000ff", lw=10, solid_joinstyle="round")
    x, z = unpack(red)
    ax.plot(x, z, color="#ff0000", lw=10, solid_joinstyle="round")
    x, z = unpack(black)
    ax.plot(x, z, color="k", lw=6.5, marker="+", ms=14, mew=5.5, solid_joinstyle="round")
    x, z = unpack(dots)
    ax.plot(x, z, color="k", ls="none", marker="+", ms=15, mew=6)

    ax.set_xlim(*x_limits[i])
    ax.set_ylim(50, 2500)
    ax.set_xticks(x_ticks[i])
    ax.set_yticks(y_ticks)
    ax.grid(True, color="k", linestyle=(0, (1, 5)), linewidth=2.5)
    ax.set_axisbelow(True)
    ax.tick_params(direction="in", length=14, width=4, top=True, right=True, labelsize=50)
    ax.tick_params(axis="x", pad=20)
    ax.tick_params(axis="y", pad=10)
    for sp in ax.spines.values():
        sp.set_linewidth(4.5)
    ax.set_xlabel(x_labels[i], fontsize=50, fontweight="bold", labelpad=16)
    if i in (0, 4):
        ax.set_ylabel("Z (m)", fontsize=54, fontweight="bold", labelpad=12)

    lx, ly = letter_pos[i]
    fig.text(lx / W, 1 - ly / H, panel_names[i], fontsize=50, fontweight="bold",
             ha="center", va="center")

fig.savefig("out.png", dpi=100)
